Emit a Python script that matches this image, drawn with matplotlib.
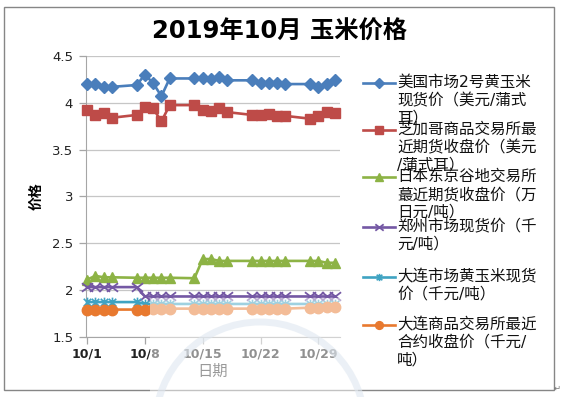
import matplotlib
matplotlib.use('Agg')
import matplotlib.pyplot as plt
import matplotlib.dates as mdates
from matplotlib.lines import Line2D
from matplotlib.patches import Rectangle, Circle
from matplotlib.path import Path
from matplotlib.ticker import FuncFormatter, MultipleLocator
import pandas as pd

plt.rcParams['font.family'] = ['DejaVu Sans', 'Noto Sans CJK SC']

# 2019年10月 交易日
dates = ['2019-10-01', '2019-10-02', '2019-10-03', '2019-10-04',
         '2019-10-07', '2019-10-08', '2019-10-09', '2019-10-10', '2019-10-11',
         '2019-10-14', '2019-10-15', '2019-10-16', '2019-10-17', '2019-10-18',
         '2019-10-21', '2019-10-22', '2019-10-23', '2019-10-24', '2019-10-25',
         '2019-10-28', '2019-10-29', '2019-10-30', '2019-10-31']

us_spot = [4.20, 4.20, 4.17, 4.17, 4.19, 4.30, 4.21, 4.07, 4.26,
           4.26, 4.26, 4.25, 4.28, 4.24, 4.24, 4.21, 4.21, 4.21, 4.20,
           4.20, 4.17, 4.20, 4.24]
cbot = [3.92, 3.87, 3.89, 3.84, 3.87, 3.96, 3.94, 3.80, 3.975,
        3.975, 3.92, 3.91, 3.94, 3.90, 3.87, 3.87, 3.875, 3.86, 3.86,
        3.83, 3.86, 3.90, 3.89]
tokyo = [2.11, 2.15, 2.135, 2.135, 2.13, 2.13, 2.13, 2.13, 2.13,
         2.125, 2.33, 2.33, 2.31, 2.31, 2.31, 2.31, 2.31, 2.31, 2.31,
         2.31, 2.31, 2.29, 2.29]
zhengzhou = [2.03, 2.03, 2.03, 2.03, 2.03, 1.93, 1.93, 1.93, 1.93,
             1.93, 1.93, 1.93, 1.93, 1.93, 1.93, 1.93, 1.93, 1.93, 1.93,
             1.93, 1.93, 1.93, 1.93]
dalian_spot = [1.87, 1.87, 1.87, 1.87, 1.87, 1.85, 1.85, 1.85, 1.85,
               1.85, 1.85, 1.85, 1.85, 1.85, 1.85, 1.85, 1.85, 1.85, 1.85,
               1.85, 1.85, 1.85, 1.85]
dce = [1.79, 1.79, 1.79, 1.79, 1.79, 1.79, 1.80, 1.80, 1.80,
       1.80, 1.80, 1.80, 1.80, 1.80, 1.80, 1.80, 1.80, 1.80, 1.80,
       1.81, 1.81, 1.82, 1.82]

labels = ['美国市场2号黄玉米\n现货价（美元/蒲式\n耳）',
          '芝加哥商品交易所最\n近期货收盘价（美元\n/蒲式耳）',
          '日本东京谷地交易所\n蕞近期货收盘价（万\n日元/吨）',
          '郑州市场现货价（千\n元/吨）',
          '大连市场黄玉米现货\n价（千元/吨）',
          '大连商品交易所最近\n合约收盘价（千元/\n吨）']

star = Path([(-1, -1), (1, 1), (-1, 1), (1, -1), (0, -1.3), (0, 1.3)],
            [Path.MOVETO, Path.LINETO, Path.MOVETO, Path.LINETO, Path.MOVETO, Path.LINETO])
wide_x = Path([(-1.3, -1), (1.3, 1), (-1.3, 1), (1.3, -1)],
              [Path.MOVETO, Path.LINETO, Path.MOVETO, Path.LINETO])

styles = [
    dict(color='#4A7EBB', marker='D', ms=6.5),
    dict(color='#BE4B48', marker='s', ms=7),
    dict(color='#8DB345', marker='^', ms=7.5),
    dict(color='#7458A4', marker=wide_x, ms=8, mew=1.3),
    dict(color='#3FA3C2', marker=star, ms=7, mew=1.2),
    dict(color='#E8792F', marker='o', ms=7.5),
]

W, H = 561, 397
x = pd.to_datetime(dates)
values = [us_spot, cbot, tokyo, zhengzhou, dalian_spot, dce]

fig = plt.figure(figsize=(W / 100, H / 100), dpi=100)
ax = fig.add_axes([85.7 / W, 1 - 336.7 / H, (340 - 85.7) / W, (336.7 - 56) / H])

for i, (v, st) in enumerate(zip(values, styles)):
    ax.plot(x, v, color=st['color'], lw=1.9, marker=st['marker'], ms=st['ms'],
            mfc=st['color'], mec=st['color'], mew=st.get('mew', 1), zorder=3 + i,
            clip_on=False)

ax.set_ylim(1.5, 4.5)
ax.yaxis.set_major_locator(MultipleLocator(0.5))
ax.yaxis.set_major_formatter(FuncFormatter(lambda v, _: f'{v:g}'))
ax.set_xlim(pd.Timestamp('2019-10-01') - pd.Timedelta(hours=4),
            pd.Timestamp('2019-10-31') + pd.Timedelta(hours=15))
ax.xaxis.set_major_locator(mdates.DayLocator(bymonthday=[1, 8, 15, 22, 29]))
ax.xaxis.set_major_formatter(FuncFormatter(
    lambda v, _: f'{mdates.num2date(v).month}/{mdates.num2date(v).day}'))

ax.grid(axis='y', color='#c6c6c6', lw=0.9)
ax.set_axisbelow(True)
for s in ['top', 'right']:
    ax.spines[s].set_visible(False)
for s in ['left', 'bottom']:
    ax.spines[s].set_color('#a6a6a6')
ax.tick_params(axis='both', color='#a6a6a6', length=5, width=0.9)
ax.tick_params(axis='y', labelsize=9.5, pad=4, labelcolor='#222222')
ax.tick_params(axis='x', labelsize=9, pad=3, labelcolor='#222222')
for t in ax.get_xticklabels():
    t.set_fontweight('bold')

ax.set_xlabel('日期', fontsize=11, labelpad=2, color='#333333')
ax.set_ylabel('价格', fontsize=10, fontweight='bold', labelpad=6)

fig.text(279 / W, 1 - 32 / H, '2019年10月 玉米价格', fontsize=17.5, fontweight='bold',
         ha='center', va='center')

# legend, drawn by hand so the marker sits on the first line
leg_y = [83, 130, 177, 227, 277, 325]
for lab, st, y in zip(labels, styles, leg_y):
    fy = 1 - y / H
    fig.add_artist(Line2D([363 / W, 395 / W], [fy, fy], color=st['color'], lw=1.9))
    fig.add_artist(Line2D([379 / W], [fy], color=st['color'], marker=st['marker'],
                          ms=st['ms'] * 0.75, mew=st.get('mew', 1)))
    fig.text(397 / W, 1 - (y - 8) / H, lab, fontsize=11.2, ha='left', va='top',
             linespacing=1.24, color='#111111')

# chart border
fig.add_artist(Rectangle((4 / W, 1 - 390 / H), 550 / W, 383 / H, transform=fig.transFigure,
                         fill=False, edgecolor='#868686', lw=1))
fig.text(557 / W, 1 - 388 / H, '↵', fontsize=6, color='#777777', ha='center', va='center')

# faint watermark over the lower middle
fig.add_artist(Rectangle((150 / W, 0), 208 / W, 99 / H, transform=fig.transFigure,
                         facecolor='white', alpha=0.5, edgecolor='none', zorder=5))
fig.add_artist(Circle((2.6, -0.3), 1.05, transform=fig.dpi_scale_trans, fill=False,
                      edgecolor='#dfe7f0', alpha=0.6, lw=5, zorder=6))

fig.savefig('out.png', dpi=100)
